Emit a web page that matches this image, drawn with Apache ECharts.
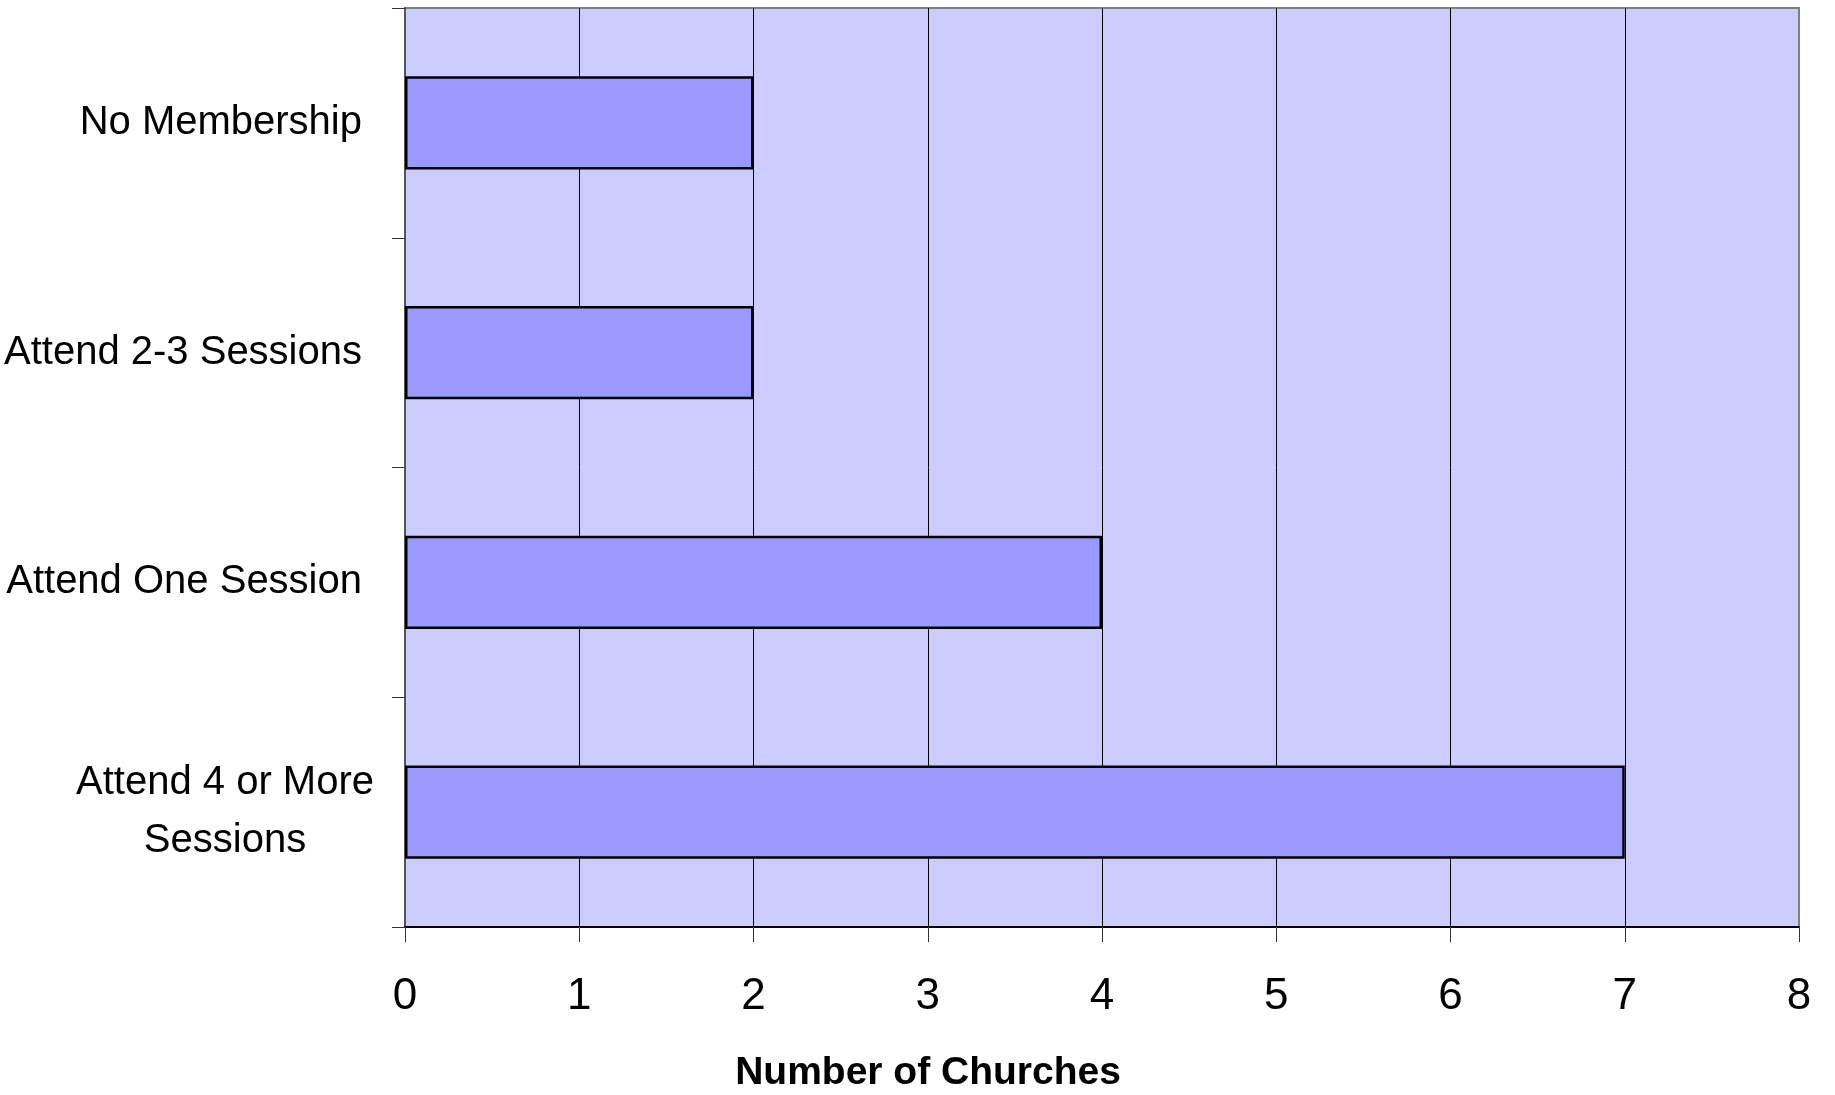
<!DOCTYPE html>
<html>
<head>
<meta charset="utf-8">
<script src="https://cdn.jsdelivr.net/npm/echarts@6/dist/echarts.min.js"></script>
<style>
html,body{margin:0;padding:0;background:#fff;}
#chart{width:1835px;height:1095px;}
</style>
</head>
<body>
<div id="chart"></div>
<script>
var categories = ['No Membership', 'Attend 2-3 Sessions', 'Attend One Session', 'Attend 4 or More\nSessions'];
var values = [2, 2, 4, 7];
var xTicks = [0, 1, 2, 3, 4, 5, 6, 7, 8];
var axisTitle = 'Number of Churches';

var chart = echarts.init(document.getElementById('chart'));
var REG = '"Liberation Sans", Arial, sans-serif';

chart.setOption({
  animation: false,
  backgroundColor: '#ffffff',
  title: {
    text: axisTitle,
    left: 923,
    textAlign: 'center',
    top: 1049,
    textStyle: { fontFamily: REG, fontWeight: 'bold', fontSize: 39, color: '#000' }
  },
  grid: {
    left: 405, right: 36, top: 8, bottom: 168,
    containLabel: false,
    outerBoundsMode: 'none',
    show: true,
    backgroundColor: '#CCCCFF',
    borderColor: '#808080',
    borderWidth: 2
  },
  xAxis: {
    type: 'value',
    min: xTicks[0],
    max: xTicks[xTicks.length - 1],
    interval: 1,
    axisLine: { show: true, onZero: false, lineStyle: { color: '#000', width: 2 } },
    axisTick: { show: true, length: 15, lineStyle: { color: '#333', width: 1 } },
    axisLabel: { margin: 48, fontFamily: REG, fontSize: 44, color: '#000' },
    splitLine: { show: true, lineStyle: { color: ['#808080', '#000', '#000', '#000', '#000', '#000', '#000', '#000', '#808080'], width: 1 } }
  },
  yAxis: {
    type: 'category',
    data: categories,
    inverse: true,
    axisLine: { show: true, lineStyle: { color: '#555', width: 2 } },
    axisTick: { show: true, length: 13, alignWithLabel: false, lineStyle: { color: '#333', width: 1 } },
    axisLabel: {
      margin: 43,
      color: '#000',
      fontFamily: REG,
      fontSize: 40,
      lineHeight: 58,
      formatter: function (v) {
        if (v.indexOf('\n') >= 0) {
          return v.split('\n').map(function (s) { return '{m|' + s + '}'; }).join('\n');
        }
        return '{s|' + v + '}';
      },
      rich: {
        s: { fontFamily: REG, fontSize: 40, color: '#000', lineHeight: 58 },
        m: { fontFamily: REG, fontSize: 40, color: '#000', lineHeight: 58, width: 296, align: 'center', padding: [0, -11, 0, 0] }
      }
    },
    splitLine: { show: false }
  },
  series: [{
    type: 'bar',
    data: values,
    barWidth: '40.5%',
    itemStyle: { color: '#9999FF', borderColor: '#000', borderWidth: 2.5 }
  }]
});
</script>
</body>
</html>
